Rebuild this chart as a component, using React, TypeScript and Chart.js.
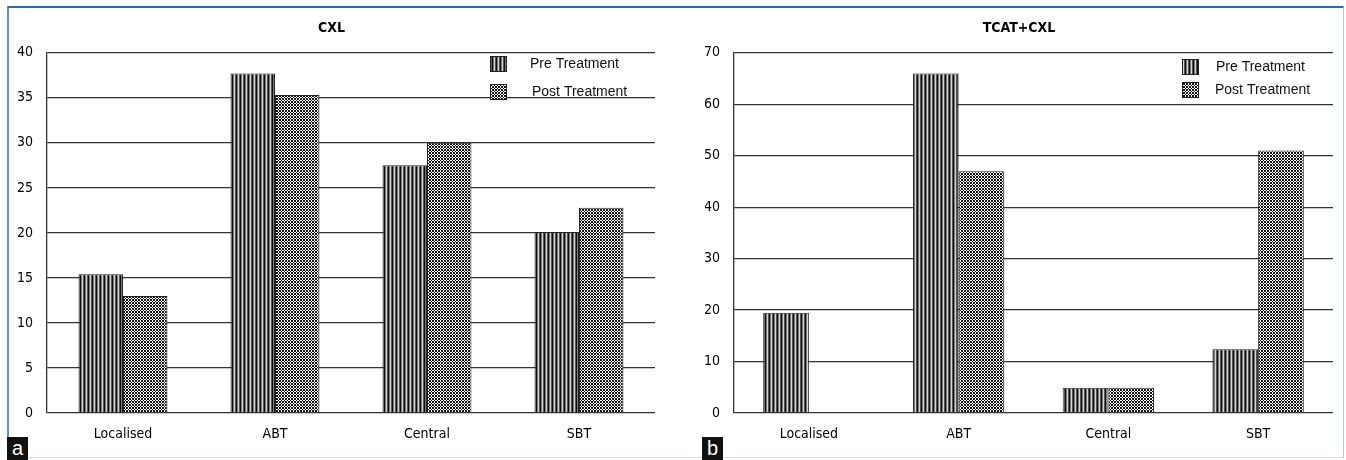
import React, { useEffect, useRef } from "react";
import { Chart, registerables } from "chart.js";

Chart.register(...registerables);

const categories = ["Localised", "ABT", "Central", "SBT"];
const cxlPre = [15.4, 37.7, 27.5, 20.1];
const cxlPost = [13.0, 35.3, 30.0, 22.8];
const tcatPre = [19.5, 66, 4.9, 12.4];
const tcatPost = [0, 47, 4.9, 51];
const seriesNames = ["Pre Treatment", "Post Treatment"];
const cxlTitle = "CXL";
const tcatTitle = "TCAT+CXL";
const cxlMax = 40;
const cxlStep = 5;
const tcatMax = 70;
const tcatStep = 10;

const TICK_FONT = "'Liberation Sans Narrow', 'DejaVu Sans Condensed', 'Open Sans', sans-serif";
const LEGEND_FONT = "'Liberation Sans', Arial, sans-serif";

function makeStripe(): CanvasPattern | string {
  const c = document.createElement("canvas");
  c.width = 4;
  c.height = 4;
  const g = c.getContext("2d");
  if (!g) return "#555";
  const cols = ["#0d0d0d", "#7a7a7a", "#d4d4d4", "#555555"];
  for (let x = 0; x < 4; x++) {
    g.fillStyle = cols[x];
    g.fillRect(x, 0, 1, 4);
  }
  return g.createPattern(c, "repeat") || "#555";
}

function makeCross(): CanvasPattern | string {
  const c = document.createElement("canvas");
  c.width = 3;
  c.height = 3;
  const g = c.getContext("2d");
  if (!g) return "#888";
  g.fillStyle = "#ffffff";
  g.fillRect(0, 0, 3, 3);
  g.fillStyle = "#141414";
  for (let x = 0; x < 3; x++) {
    for (let y = 0; y < 3; y++) {
      if ((x + y) % 3 === 0 || (((x - y) % 3) + 3) % 3 === 0) g.fillRect(x, y, 1, 1);
    }
  }
  return g.createPattern(c, "repeat") || "#888";
}

type LegendPos = { boxX: number; textX: number[]; rowY: number[] };

function legendPlugin(pos: LegendPos) {
  return {
    id: "customLegend",
    afterDraw(chart: any) {
      const ctx = chart.ctx;
      ctx.save();
      chart.data.datasets.forEach((ds: any, i: number) => {
        const cy = pos.rowY[i];
        ctx.fillStyle = ds.backgroundColor;
        ctx.fillRect(pos.boxX, cy - 8, 17, 16);
        ctx.strokeStyle = "#222";
        ctx.lineWidth = 1;
        ctx.strokeRect(pos.boxX + 0.5, cy - 7.5, 16, 15);
        ctx.fillStyle = "#111";
        ctx.font = `14px ${LEGEND_FONT}`;
        ctx.textBaseline = "middle";
        ctx.textAlign = "left";
        ctx.fillText(ds.label, pos.textX[i], cy);
      });
      ctx.restore();
    },
  };
}

function buildConfig(
  title: string,
  pre: number[],
  post: number[],
  max: number,
  step: number,
  yWidth: number,
  padRight: number,
  catPct: number,
  legend: LegendPos
): any {
  return {
    type: "bar",
    data: {
      labels: categories,
      datasets: [
        {
          label: seriesNames[0],
          data: pre,
          backgroundColor: makeStripe(),
          borderColor: "#222",
          borderWidth: 1,
          barPercentage: 1,
          categoryPercentage: catPct,
        },
        {
          label: seriesNames[1],
          data: post,
          backgroundColor: makeCross(),
          borderColor: "#222",
          borderWidth: 1,
          barPercentage: 1,
          categoryPercentage: catPct,
        },
      ],
    },
    options: {
      animation: false,
      responsive: false,
      devicePixelRatio: 1,
      layout: { padding: { left: 0, right: padRight, top: 0, bottom: 0 } },
      plugins: {
        legend: { display: false },
        tooltip: { enabled: false },
        title: {
          display: true,
          text: title,
          color: "#000",
          font: { family: TICK_FONT, size: 14, weight: "bold", lineHeight: 1.2 },
          padding: { top: 13, bottom: 16 },
        },
      },
      scales: {
        x: {
          grid: { display: false, drawTicks: false },
          border: { display: false },
          ticks: { color: "#000", font: { family: TICK_FONT, size: 14 }, padding: 13, maxRotation: 0 },
          afterFit: (s: any) => {
            s.height = 46;
          },
        },
        y: {
          min: 0,
          max: max,
          ticks: { stepSize: step, color: "#000", font: { family: TICK_FONT, size: 14 }, padding: 14 },
          grid: { color: "#333", lineWidth: 1.3, drawTicks: false },
          border: { display: true, color: "#333", width: 1.3 },
          afterFit: (s: any) => {
            s.width = yWidth;
          },
        },
      },
    },
    plugins: [legendPlugin(legend)],
  };
}

export default function App() {
  const leftRef = useRef<HTMLCanvasElement>(null);
  const rightRef = useRef<HTMLCanvasElement>(null);

  useEffect(() => {
    document.body.style.margin = "0";
    const charts: Chart[] = [];
    if (leftRef.current) {
      charts.push(
        new Chart(
          leftRef.current,
          buildConfig(cxlTitle, cxlPre, cxlPost, cxlMax, cxlStep, 39, 13, 0.585, {
            boxX: 482,
            textX: [522, 524],
            rowY: [57, 85],
          })
        )
      );
    }
    if (rightRef.current) {
      charts.push(
        new Chart(
          rightRef.current,
          buildConfig(tcatTitle, tcatPre, tcatPost, tcatMax, tcatStep, 29, 12, 0.61, {
            boxX: 477,
            textX: [511, 510],
            rowY: [60, 83],
          })
        )
      );
    }
    return () => charts.forEach((c) => c.destroy());
  }, []);

  const tag: React.CSSProperties = {
    position: "absolute",
    top: 437,
    width: 21,
    height: 23,
    background: "#111",
    color: "#fff",
    font: `20px ${LEGEND_FONT}`,
    lineHeight: "23px",
    textAlign: "center",
  };

  return (
    <div style={{ position: "absolute", left: 0, top: 0, width: 1346, height: 460, background: "#fff", overflow: "hidden" }}>
      <div
        style={{
          position: "absolute",
          left: 7,
          top: 6,
          width: 1337,
          height: 452,
          borderTop: "2px solid #1f6ec4",
          borderLeft: "2px solid #5a93d4",
          borderRight: "1px solid #b9c9dc",
          borderBottom: "1px solid #d3dce8",
          boxSizing: "border-box",
        }}
      />
      <canvas ref={leftRef} width={660} height={452} style={{ position: "absolute", left: 8, top: 7, display: "block" }} />
      <canvas ref={rightRef} width={640} height={452} style={{ position: "absolute", left: 705, top: 7, display: "block" }} />
      <div style={{ ...tag, left: 7 }}>a</div>
      <div style={{ ...tag, left: 702 }}>b</div>
    </div>
  );
}
